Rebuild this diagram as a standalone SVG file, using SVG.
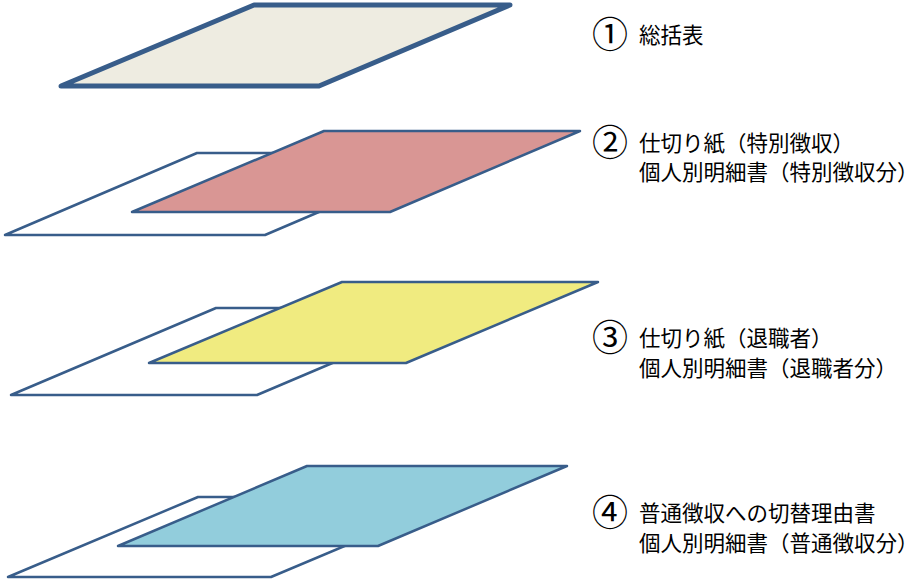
<svg xmlns="http://www.w3.org/2000/svg" width="922" height="581" viewBox="0 0 922 581">
<style>
.sheet{stroke:#385D8A;stroke-width:2.5;stroke-linejoin:round}
.thick{stroke-width:5}
.back{fill:#FFFFFF}
.lbl{font-family:"Noto Sans CJK JP","Noto Sans",sans-serif;font-size:21.5px;fill:#000}
.num{font-family:"Noto Sans CJK JP","Noto Sans",sans-serif;font-size:36px;fill:#000}
</style>
<rect width="922" height="581" fill="#FFFFFF"/>
<g id="sheet1">
<polygon class="sheet thick" points="254,5 510,5 319,86 61,86" fill="#EEECE1"/>
</g>
<g id="sheet2">
<polygon class="sheet back" points="197,153 457,153 265,235 5,235"/>
<polygon class="sheet" points="324,131 580,131 390,212 132,212" fill="#D99694"/>
</g>
<g id="sheet3">
<polygon class="sheet back" points="216,308 462,308 257,395 11,395"/>
<polygon class="sheet" points="342,282 598,282 406,363 149,363" fill="#F0EB80"/>
</g>
<g id="sheet4">
<polygon class="sheet back" points="198,497 461,497 271,577 8,577"/>
<polygon class="sheet" points="307,466 567,466 378,546 118,546" fill="#92CDDC"/>
</g>
<g id="label1">
<text class="num" x="592" y="48">①</text>
<text class="lbl" x="639" y="43">総括表</text>
</g>
<g id="label2">
<text class="num" x="592" y="156">②</text>
<text class="lbl" x="639" y="151">仕切り紙（特別徴収）</text>
<text class="lbl" x="639" y="180">個人別明細書（特別徴収分）</text>
</g>
<g id="label3">
<text class="num" x="592" y="351">③</text>
<text class="lbl" x="639" y="346">仕切り紙（退職者）</text>
<text class="lbl" x="639" y="376">個人別明細書（退職者分）</text>
</g>
<g id="label4">
<text class="num" x="592" y="526">④</text>
<text class="lbl" x="639" y="521">普通徴収への切替理由書</text>
<text class="lbl" x="639" y="551">個人別明細書（普通徴収分）</text>
</g>
<g id="connectors"></g>
</svg>
